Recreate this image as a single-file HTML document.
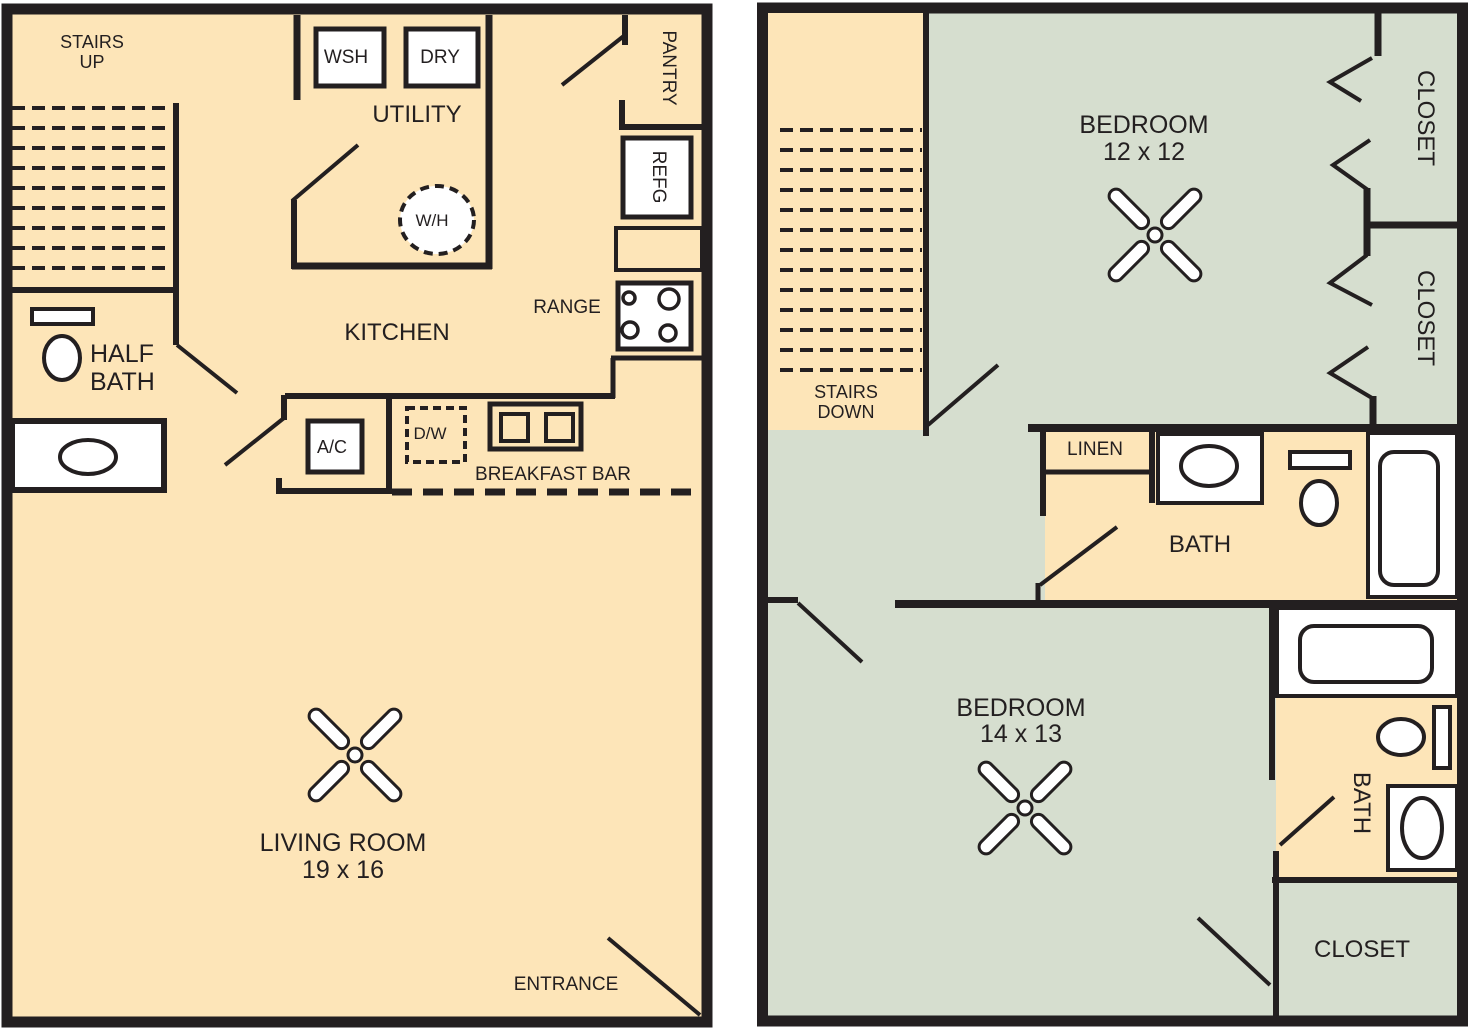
<!DOCTYPE html>
<html><head><meta charset="utf-8"><style>
html,body{margin:0;padding:0;background:#fff;}
svg{display:block;}
text{font-family:"Liberation Sans",sans-serif;fill:#231f20;}
</style></head><body>
<svg width="1469" height="1030" viewBox="0 0 1469 1030" xmlns="http://www.w3.org/2000/svg">
<defs>
<g id="fan">
  <circle cx="0" cy="0" r="7" fill="#fff" stroke="#231f20" stroke-width="3"/>
  <g fill="#fff" stroke="#231f20" stroke-width="3">
    <rect x="12" y="-7" width="50" height="14" rx="7" transform="rotate(-45)"/>
    <rect x="12" y="-7" width="50" height="14" rx="7" transform="rotate(45)"/>
    <rect x="12" y="-7" width="50" height="14" rx="7" transform="rotate(135)"/>
    <rect x="12" y="-7" width="50" height="14" rx="7" transform="rotate(225)"/>
  </g>
</g>
</defs>
<g stroke="#231f20" fill="none" stroke-linecap="butt">
<!-- LEFT PLAN -->
<rect x="7" y="9" width="700" height="1013" fill="#fde5b8" stroke-width="11"/>
<!-- stairs -->
<g stroke-width="4" stroke-dasharray="13,7">
<line x1="12" y1="108" x2="172" y2="108"/><line x1="12" y1="128" x2="172" y2="128"/>
<line x1="12" y1="148" x2="172" y2="148"/><line x1="12" y1="168" x2="172" y2="168"/>
<line x1="12" y1="188" x2="172" y2="188"/><line x1="12" y1="208" x2="172" y2="208"/>
<line x1="12" y1="228" x2="172" y2="228"/><line x1="12" y1="248" x2="172" y2="248"/>
<line x1="12" y1="268" x2="172" y2="268"/>
</g>
<line x1="176" y1="103" x2="176" y2="345" stroke-width="6"/>
<line x1="12" y1="290" x2="176" y2="290" stroke-width="6"/>
<line x1="177" y1="345" x2="237" y2="393" stroke-width="4"/>
<!-- half bath -->
<rect x="32" y="309" width="61" height="15" fill="#fff" stroke-width="4"/>
<ellipse cx="62" cy="358" rx="18" ry="22" fill="#fff" stroke-width="4"/>
<rect x="12" y="421" width="152" height="69" fill="#fff" stroke-width="6"/>
<ellipse cx="88" cy="457" rx="28" ry="17" fill="#fff" stroke-width="4"/>
<!-- utility -->
<line x1="297" y1="15" x2="297" y2="100" stroke-width="7"/>
<rect x="316" y="29" width="68" height="57" fill="#fff" stroke-width="5"/>
<rect x="406" y="29" width="72" height="57" fill="#fff" stroke-width="5"/>
<line x1="489" y1="15" x2="489" y2="269" stroke-width="7"/>
<line x1="292" y1="266" x2="492" y2="266" stroke-width="7"/>
<line x1="294" y1="200" x2="294" y2="269" stroke-width="6"/>
<line x1="292" y1="201" x2="358" y2="145" stroke-width="4"/>
<ellipse cx="437" cy="220" rx="37" ry="34" fill="#fff" stroke-width="4" stroke-dasharray="9,6"/>
<!-- pantry -->
<line x1="625" y1="15" x2="625" y2="45" stroke-width="6"/>
<line x1="562" y1="85" x2="625" y2="35" stroke-width="4"/>
<line x1="622" y1="100" x2="622" y2="128" stroke-width="6"/>
<line x1="619" y1="127" x2="702" y2="127" stroke-width="6"/>
<rect x="623" y="138" width="68" height="79" fill="#fff" stroke-width="5"/>
<rect x="616" y="228" width="86" height="42" stroke-width="4"/>
<rect x="618" y="283" width="73" height="66" fill="#fff" stroke-width="5"/>
<circle cx="629" cy="298" r="6" stroke-width="3.5"/><circle cx="669" cy="299" r="10" stroke-width="3.5"/>
<circle cx="630" cy="330" r="8" stroke-width="3.5"/><circle cx="668" cy="333" r="8" stroke-width="3.5"/>
<!-- kitchen walls -->
<line x1="285" y1="396" x2="615" y2="396" stroke-width="6"/>
<line x1="613" y1="358" x2="613" y2="398" stroke-width="5"/>
<line x1="611" y1="358" x2="702" y2="358" stroke-width="5"/>
<line x1="284" y1="395" x2="284" y2="420" stroke-width="6"/>
<line x1="225" y1="465" x2="284" y2="418" stroke-width="4"/>
<line x1="279" y1="478" x2="279" y2="494" stroke-width="6"/>
<line x1="276" y1="491" x2="390" y2="491" stroke-width="6"/>
<line x1="389" y1="394" x2="389" y2="494" stroke-width="6"/>
<rect x="308" y="421" width="54" height="51" fill="#fff" stroke-width="5"/>
<rect x="407" y="408" width="58" height="54" stroke-width="4" stroke-dasharray="8,5"/>
<rect x="490" y="404" width="91" height="45" stroke-width="5"/>
<rect x="501" y="414" width="27" height="27" stroke-width="4"/>
<rect x="546" y="414" width="27" height="27" stroke-width="4"/>
<line x1="392" y1="492" x2="702" y2="492" stroke-width="7" stroke-dasharray="20,11"/>
<line x1="608" y1="938" x2="700" y2="1015" stroke-width="4"/>

<!-- RIGHT PLAN -->
<rect x="762.5" y="8" width="700" height="1013" fill="#d6decf" stroke-width="11"/>
<rect x="768" y="13" width="157" height="417" fill="#fde5b8" stroke="none"/>
<g stroke-width="4" stroke-dasharray="13,7">
<line x1="780" y1="130" x2="922" y2="130"/><line x1="780" y1="150" x2="922" y2="150"/>
<line x1="780" y1="170" x2="922" y2="170"/><line x1="780" y1="190" x2="922" y2="190"/>
<line x1="780" y1="210" x2="922" y2="210"/><line x1="780" y1="230" x2="922" y2="230"/>
<line x1="780" y1="250" x2="922" y2="250"/><line x1="780" y1="270" x2="922" y2="270"/>
<line x1="780" y1="290" x2="922" y2="290"/><line x1="780" y1="310" x2="922" y2="310"/>
<line x1="780" y1="330" x2="922" y2="330"/><line x1="780" y1="350" x2="922" y2="350"/>
<line x1="780" y1="370" x2="922" y2="370"/>
</g>
<line x1="926" y1="13" x2="926" y2="436" stroke-width="6"/>
<line x1="928" y1="425" x2="998" y2="365" stroke-width="4"/>
<!-- closets -->
<line x1="1378" y1="13" x2="1378" y2="56" stroke-width="7"/>
<polyline points="1372,58 1330,82 1361,101" stroke-width="4"/>
<polyline points="1370,140 1333,165 1368,190" stroke-width="4"/>
<line x1="1367" y1="188" x2="1367" y2="256" stroke-width="7"/>
<line x1="1367" y1="225" x2="1457" y2="225" stroke-width="7"/>
<polyline points="1367,255 1330,283 1372,305" stroke-width="4"/>
<polyline points="1368,347 1330,373 1372,398" stroke-width="4"/>
<line x1="1373" y1="396" x2="1373" y2="430" stroke-width="7"/>
<!-- upper bath -->
<rect x="1045" y="431" width="412" height="170" fill="#fde5b8" stroke="none"/>
<line x1="1028" y1="428" x2="1457" y2="428" stroke-width="8"/>
<line x1="1043" y1="428" x2="1043" y2="516" stroke-width="6"/>
<line x1="1045" y1="472" x2="1152" y2="472" stroke-width="5"/>
<line x1="1152" y1="431" x2="1152" y2="503" stroke-width="6"/>
<rect x="1158" y="434" width="104" height="69" fill="#fff" stroke-width="4"/>
<ellipse cx="1209" cy="466" rx="28" ry="20" fill="#fff" stroke-width="4"/>
<rect x="1290" y="452" width="60" height="16" fill="#fff" stroke-width="4"/>
<ellipse cx="1319" cy="503" rx="18" ry="22" fill="#fff" stroke-width="4"/>
<rect x="1368" y="433" width="89" height="164" fill="#fff" stroke-width="4"/>
<rect x="1380" y="452" width="58" height="133" rx="14" stroke-width="4"/>
<line x1="1040" y1="585" x2="1117" y2="527" stroke-width="4"/>
<line x1="1038" y1="583" x2="1038" y2="603" stroke-width="5"/>
<line x1="895" y1="604" x2="1457" y2="604" stroke-width="8"/>
<line x1="766" y1="600" x2="798" y2="600" stroke-width="6"/>
<line x1="798" y1="603" x2="862" y2="662" stroke-width="4"/>
<!-- lower bath -->
<rect x="1276" y="608" width="181" height="272" fill="#fde5b8" stroke="none"/>
<rect x="1277" y="608" width="180" height="88" fill="#fff" stroke-width="4"/>
<rect x="1300" y="626" width="132" height="56" rx="14" stroke-width="4"/>
<line x1="1272" y1="604" x2="1272" y2="780" stroke-width="6"/>
<line x1="1276" y1="851" x2="1276" y2="1016" stroke-width="6"/>
<rect x="1434" y="707" width="16" height="61" fill="#fff" stroke-width="4"/>
<ellipse cx="1401" cy="737" rx="23" ry="18" fill="#fff" stroke-width="4"/>
<rect x="1388" y="786" width="69" height="84" fill="#fff" stroke-width="4"/>
<ellipse cx="1422" cy="828" rx="20" ry="30" fill="#fff" stroke-width="4"/>
<line x1="1280" y1="845" x2="1334" y2="797" stroke-width="4"/>
<line x1="1272" y1="880" x2="1457" y2="880" stroke-width="6"/>
<line x1="1198" y1="918" x2="1270" y2="985" stroke-width="4"/>
</g>
<use href="#fan" x="355" y="755"/>
<use href="#fan" x="1155" y="235"/>
<use href="#fan" x="1025" y="808"/>
<!-- texts -->
<g text-anchor="middle">
<text x="92" y="48" font-size="18">STAIRS</text>
<text x="92" y="68" font-size="18">UP</text>
<text x="346" y="63" font-size="19">WSH</text>
<text x="440" y="63" font-size="19">DRY</text>
<text x="417" y="122" font-size="24">UTILITY</text>
<text x="432" y="226" font-size="17">W/H</text>
<text x="397" y="340" font-size="24">KITCHEN</text>
<text x="567" y="313" font-size="19">RANGE</text>
<text x="332" y="453" font-size="18">A/C</text>
<text x="430" y="439" font-size="17">D/W</text>
<text x="553" y="480" font-size="19">BREAKFAST BAR</text>
<text x="343" y="851" font-size="25">LIVING ROOM</text>
<text x="343" y="878" font-size="25">19 x 16</text>
<text x="566" y="990" font-size="19">ENTRANCE</text>
<text x="846" y="398" font-size="18">STAIRS</text>
<text x="846" y="418" font-size="18">DOWN</text>
<text x="1144" y="133" font-size="25">BEDROOM</text>
<text x="1144" y="160" font-size="25">12 x 12</text>
<text x="1095" y="455" font-size="19">LINEN</text>
<text x="1200" y="552" font-size="24">BATH</text>
<text x="1021" y="716" font-size="25">BEDROOM</text>
<text x="1021" y="742" font-size="25">14 x 13</text>
<text x="1362" y="957" font-size="24">CLOSET</text>
</g>
<text x="90" y="362" font-size="25">HALF</text>
<text x="90" y="390" font-size="25">BATH</text>
<text font-size="19" text-anchor="middle" transform="translate(663,68) rotate(90)">PANTRY</text>
<text font-size="19" text-anchor="middle" transform="translate(653,177) rotate(90)">REFG</text>
<text font-size="24" text-anchor="middle" transform="translate(1418,118) rotate(90)">CLOSET</text>
<text font-size="24" text-anchor="middle" transform="translate(1418,318) rotate(90)">CLOSET</text>
<text font-size="24" text-anchor="middle" transform="translate(1354,803) rotate(90)">BATH</text>
</svg>
</body></html>
